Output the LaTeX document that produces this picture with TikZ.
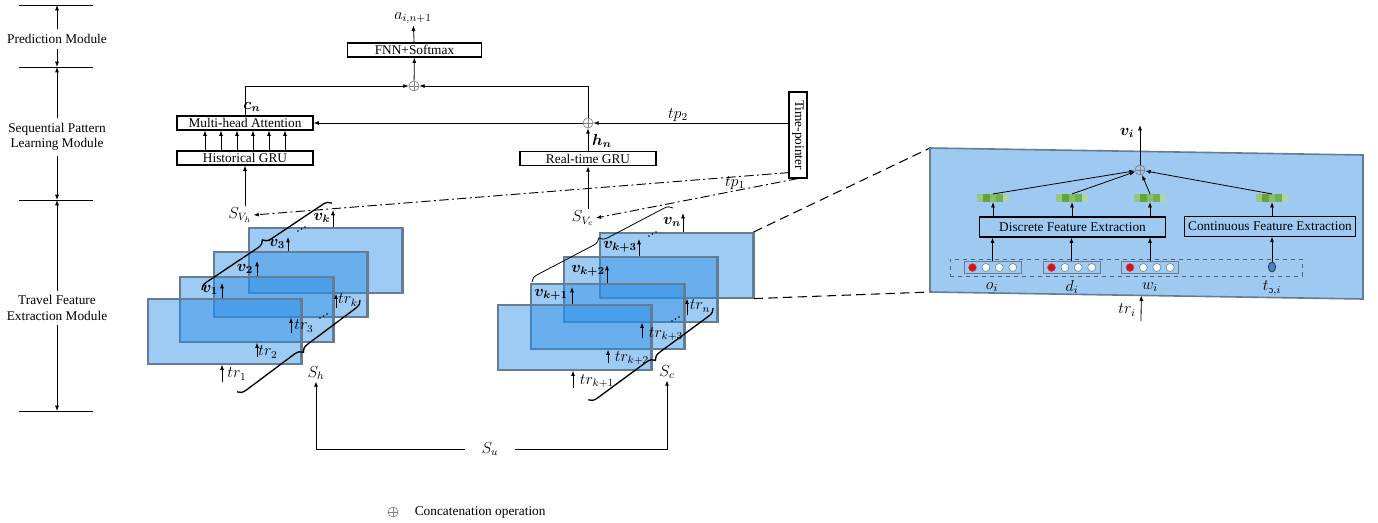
\documentclass[tikz,border=0pt]{standalone}
\usepackage{amsmath,amssymb,bm}
\usepackage{graphicx}
\usepackage{fontspec}
\setmainfont{Liberation Serif}
\usepackage{tikz}
\usetikzlibrary{arrows.meta,positioning,shapes.geometric,decorations.pathreplacing,calc}
\definecolor{cardblue}{RGB}{40,140,230}
\definecolor{paneblue}{RGB}{158,202,242}
\definecolor{edgeblue}{RGB}{100,124,148}
\definecolor{gA}{RGB}{150,200,130}
\definecolor{gB}{RGB}{100,162,62}
\definecolor{gC}{RGB}{135,192,105}
\definecolor{gD}{RGB}{112,176,84}
\definecolor{gE}{RGB}{175,212,172}
\tikzset{
    block/.style={
        rectangle,
        draw,
        line width=0.8pt,
        inner sep=0pt,
        align=center
    },
    flow/.style={-{Latex[length=4pt,width=3pt]}},
    card/.style={
        rectangle,
        fill=cardblue,
        fill opacity=0.45,
        draw=edgeblue,
        line width=1.2pt,
        inner sep=0pt,
        anchor=north west,
        minimum width=114.75pt,
        minimum height=48.75pt
    },
    cardedge/.style={draw=edgeblue, line width=2.2pt},
    concat/.style={
        circle,
        draw=gray,
        line width=0.5pt,
        minimum size=7.5pt,
        inner sep=0pt,
        path picture={
            \draw[gray, line width=0.5pt]
                (path picture bounding box.north) -- (path picture bounding box.south)
                (path picture bounding box.west) -- (path picture bounding box.east);
        }
    },
    mathlbl/.style={inner sep=1pt, font=\fontsize{12}{14}\selectfont},
    dashdot/.style={line width=0.7pt, dash pattern=on 7pt off 2.5pt on 1.5pt off 2.5pt},
    zoomline/.style={line width=0.8pt, dash pattern=on 7pt off 4pt},
    stackbrace/.style={decorate, decoration={brace, amplitude=6pt}, line width=1pt},
    featbar/.style={
        rectangle,
        inner sep=0pt,
        minimum width=24pt,
        minimum height=5.5pt,
        path picture={
            \foreach \c [count=\i] in {gA,gB,gC,gD,gE}
                \fill[\c] ($(path picture bounding box.south west)+(\i*4.8pt-4.8pt,0pt)$) rectangle ++(4.8pt,5.5pt);
        }
    },
    onehot/.style={rectangle, draw=edgeblue, line width=0.6pt, inner sep=0pt,
        minimum width=42.75pt, minimum height=8.5pt},
    dot/.style={circle, draw=edgeblue, line width=0.4pt, inner sep=0pt, minimum size=6pt}
}

\begin{document}
\begin{tikzpicture}[x=0.75pt, y=-0.75pt, line width=0.6pt, font=\fontsize{10}{11.5}\selectfont]
    \useasboundingbox (0,0) rectangle (1378,522);

    % module scale on the left
    \foreach \y [count=\i from 0] in {5,67,200,411} {
        \draw (19,\y) -- (93,\y);
        \coordinate (l\i) at (57,\y);
    }
    \node[align=center] (pm) at (57,39) {Prediction Module};
    \node[align=center] (spl) at (57,137) {Sequential Pattern\\Learning Module};
    \node[align=center] (tfe) at (57,308) {Travel Feature\\Extraction Module};
    \draw[flow] (pm) -- (l0);
    \draw[flow] (pm) -- (l1);
    \draw[flow] (spl) -- (l1);
    \draw[flow] (spl) -- (l2);
    \draw[flow] (tfe) -- (l2);
    \draw[flow] (tfe) -- (l3);

    % prediction and sequence learning blocks
    \node[mathlbl] (out) at (413,18) {$a_{i,n+1}$};
    \node[block, minimum width=101pt, minimum height=10.5pt] (fnn) at (414.5,50) {FNN+Softmax};
    \node[concat] (cat1) at (414,86) {};
    \node[block, minimum width=102pt, minimum height=10.5pt] (mha) at (245,123) {Multi-head Attention};
    \node[block, minimum width=102pt, minimum height=10.5pt] (hgru) at (245,158) {Historical GRU};
    \node[concat] (cat2) at (588,123) {};
    \node[block, minimum width=102pt, minimum height=11pt] (rgru) at (588,158.5) {Real-time GRU};
    \node[block, minimum width=13.5pt, minimum height=64.5pt] (tp) at (798,135) {\rotatebox{-90}{Time-pointer}};
    \node[mathlbl] (cn) at (252,107) {$\bm{c_n}$};
    \node[mathlbl] (hn) at (602,141) {$\bm{h_n}$};
    \node[mathlbl] (tp2) at (678,115) {$tp_2$};
    \node[mathlbl] (tp1) at (735,183) {$tp_1$};
    \node[mathlbl] (svh) at (240,215) {$S_{V_h}$};
    \node[mathlbl] (svc) at (583,218) {$S_{V_c}$};

    \draw[flow] (fnn) -- (out);
    \draw[flow] (cat1) -- (fnn);
    \draw[flow] (mha.north) |- (cat1);
    \draw[flow] (cat2) |- (cat1);
    \draw[flow] (tp.west |- cat2) -- (cat2);
    \draw[flow] (cat2) -- (mha.east);
    \draw[flow] (rgru) -- (cat2);
    \draw[flow] (rgru.south |- svc.north) -- (rgru.south);
    \draw[flow] (hgru.south |- svh.north) -- (hgru.south);
    \foreach \x in {205,221,237,253,269,285}
        \draw[flow] (hgru.north -| \x,0) -- (mha.south -| \x,0);
    \draw[dashdot, flow] ($(tp.south west)+(1,-6)$) -- (svh.east);
    \draw[dashdot, flow] (tp.south) -- (svc.east);

    % stacked travel cards
    \foreach \nm/\cx/\cy in {c4/248/227, c3/213/251, c2/179/276, c1/147/298,
                             d4/599/232, d3/563/256, d2/530/283, d1/497/304} {
        \node[card] (\nm) at (\cx,\cy) {};
        \draw[cardedge] (\nm.north east) -- (\nm.south east);
    }
    \foreach \cd/\ax/\ay/\lx/\ly/\txt in {c1/222/283/210/290/{v_1}, c2/257/261/245/269/{v_2},
            c3/288/237/277/244/{v_3}, c4/333/210/322/218/{v_k},
            d1/572/287/551/295/{v_{k+1}}, d2/607/265/588/271/{v_{k+2}},
            d3/639/239/620/247/{v_{k+3}}, d4/683/213/672/222/{v_n}} {
        \coordinate (tip-\cd) at (\ax,\ay);
        \draw[flow] (tip-\cd |- \cd.north) -- (tip-\cd);
        \node[mathlbl] (lab-\cd) at (\lx,\ly) {$\bm{\txt}$};
    }
    \foreach \cd/\ax/\ay/\lx/\ly/\txt in {c1/222/382/237/374/{tr_1}, c2/257/357/268/352/{tr_2},
            c3/291/333/304/326/{tr_3}, c4/336/308/348/300/{tr_k},
            d1/573/388/597/381/{tr_{k+1}}, d2/608/363/632/358/{tr_{k+2}},
            d3/642/338/666/334/{tr_{k+3}}, d4/687/315/700/306/{tr_n}} {
        \coordinate (src-\cd) at (\ax,\ay);
        \draw[flow] (src-\cd) -- (src-\cd |- \cd.south);
        \node[mathlbl] (tr-\cd) at (\lx,\ly) {$\txt$};
    }
    \foreach \px/\py in {298/231, 320/318, 649/236, 672/321}
        \foreach \k in {0,1,2}
            \fill (\px+3.5*\k,\py-2*\k) circle (0.7pt);
    \draw[stackbrace] (202,290) -- (332,203);
    \draw[stackbrace] (360,300) -- (237,392);
    \draw[stackbrace, line width=0.6pt] (532,282) -- (673,208);
    \draw[stackbrace] (713,308) -- (588,400);

    \node[mathlbl] (sh) at (316,373) {$S_h$};
    \node[mathlbl] (sc) at (667,372) {$S_c$};
    \node[mathlbl, inner xsep=12pt] (su) at (490,449) {$S_u$};
    \draw[flow] (su) -| (sh);
    \draw[flow] (su) -| (sc);

    % zoomed travel feature panel
    \coordinate (p1) at (930,148);
    \coordinate (p2) at (1363,155);
    \coordinate (p3) at (1363,299);
    \coordinate (p4) at (930,292);
    \draw[zoomline] (d4.north east) -- (p1);
    \draw[zoomline] (d4.south east) -- (p4);
    \filldraw[fill=paneblue, draw=edgeblue, line width=1.2pt] (p1) -- (p2) -- (p3) -- (p4) -- cycle;
    \draw[cardedge] (p2) -- (p3);

    \node[concat] (catv) at (1140,170) {};
    \node[mathlbl] (vi) at (1127,133) {$\bm{v_i}$};
    \coordinate (vitop) at (1140,125);
    \draw[flow] (catv) -- (vitop);
    \foreach \b/\bx in {b1/993, b2/1072, b3/1150, b4/1272}
        \node[featbar] (\b) at (\bx,198) {};
    \foreach \b in {b1,b2,b3,b4}
        \draw[flow] (\b.north) -- (catv);
    \node[block, minimum width=139pt, minimum height=15pt] (dfe) at (1072.5,227) {Discrete Feature Extraction};
    \node[block, minimum width=128pt, minimum height=14.5pt] (cfe) at (1270,226.5) {Continuous Feature Extraction};
    \foreach \b in {b1,b2,b3}
        \draw[flow] (dfe.north -| \b) -- (\b);
    \draw[flow] (cfe.north -| b4) -- (b4);

    \node[rectangle, draw=edgeblue!80!black, dashed, line width=0.6pt, inner sep=0pt,
        minimum width=264pt, minimum height=12.75pt] (row) at (1126,267.5) {};
    \foreach \g/\gx in {g1/992.5, g2/1071.5, g3/1150} {
        \node[onehot] (\g) at (\gx,267.5) {};
        \foreach \k/\col in {0/red,1/white,2/white,3/white}
            \node[dot, fill=\col] at (\gx-20+13.4*\k,267.5) {};
        \draw[flow] (\g) -- (\g |- dfe.south);
    }
    \node[ellipse, draw=black!80, fill={rgb,255:red,70;green,130;blue,200}, line width=0.6pt,
        inner sep=0pt, minimum width=5.5pt, minimum height=7.5pt] (cont) at (1272,267) {};
    \draw[flow] (cont) -- (cont |- cfe.south);
    \node[mathlbl] (oi) at (992,287) {$o_i$};
    \node[mathlbl] (di) at (1072,287) {$d_i$};
    \node[mathlbl] (wi) at (1150,287) {$w_i$};
    \node[mathlbl] (ti) at (1272,288) {$t_{\text{ɔ},i}$};
    \node[mathlbl] (tri) at (1127,310) {$tr_i$};
    \coordinate (trsrc) at (1141,321);
    \draw[flow] (trsrc) -- ($(p4)!0.488!(p3)$);

    % legend
    \node[concat] (legcat) at (393,512) {};
    \node[anchor=west] (legtxt) at (410,512) {Concatenation operation};
\end{tikzpicture}
\end{document}
